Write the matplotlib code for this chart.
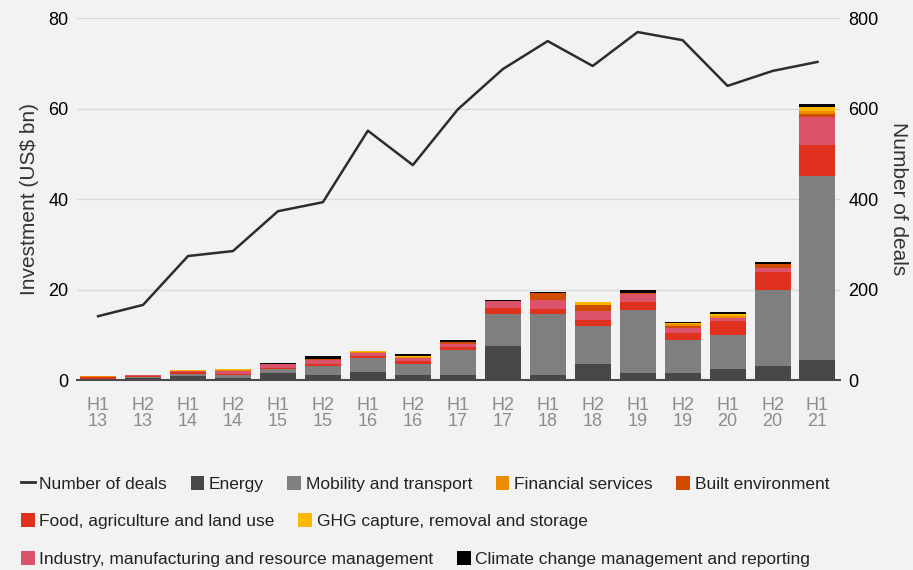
import numpy as np
import matplotlib
matplotlib.use("Agg")
import matplotlib.pyplot as plt
from matplotlib.patches import Patch
from matplotlib.lines import Line2D

plt.rcParams['font.family'] = ['Liberation Sans', 'DejaVu Sans']

periods = ["H1\n13", "H2\n13", "H1\n14", "H2\n14", "H1\n15", "H2\n15", "H1\n16", "H2\n16", "H1\n17",
           "H2\n17", "H1\n18", "H2\n18", "H1\n19", "H2\n19", "H1\n20", "H2\n20", "H1\n21"]

# investment, US$ bn, per sector
energy = [0.2, 0.5, 0.95, 0.5, 1.5, 1.0, 1.8, 1.0, 1.0, 7.5, 1.1, 3.5, 1.5, 1.5, 2.4, 3.1, 4.4]
mobility = [0.1, 0.2, 0.45, 0.5, 0.9, 2.05, 3.1, 2.5, 5.6, 7.1, 13.5, 8.4, 14.0, 7.3, 7.5, 16.8, 40.7]
food = [0.3, 0.1, 0.3, 0.4, 0.3, 0.5, 0.5, 0.6, 0.6, 1.3, 1.1, 1.3, 1.7, 1.6, 3.1, 4.0, 6.8]
industry = [0.1, 0.2, 0.3, 0.5, 0.75, 0.8, 0.6, 0.8, 0.7, 1.6, 2.0, 2.0, 1.8, 1.1, 0.7, 0.9, 6.2]
built = [0, 0, 0, 0, 0, 0.35, 0, 0, 0.5, 0, 1.5, 1.4, 0.2, 0.4, 0, 0.9, 0.7]
financial = [0.1, 0, 0.1, 0.3, 0, 0, 0.2, 0.15, 0, 0, 0, 0, 0, 0.4, 0.5, 0, 0.6]
ghg = [0.1, 0, 0.2, 0.2, 0, 0, 0.2, 0.15, 0, 0, 0, 0.6, 0, 0.3, 0.4, 0, 0.9]
climate = [0, 0, 0, 0, 0.3, 0.5, 0, 0.5, 0.4, 0.2, 0.2, 0, 0.7, 0.3, 0.4, 0.4, 0.6]

deals = [141, 166, 274, 285, 373, 393, 551, 475, 598, 687, 749, 694, 769, 751, 650, 683, 703]

stack = [
    (energy, "Energy", "#474747"),
    (mobility, "Mobility and transport", "#7f7f7f"),
    (food, "Food, agriculture and land use", "#e0301e"),
    (industry, "Industry, manufacturing and resource management", "#db536a"),
    (built, "Built environment", "#d04a02"),
    (financial, "Financial services", "#eb8c00"),
    (ghg, "GHG capture, removal and storage", "#ffb600"),
    (climate, "Climate change management and reporting", "#000000"),
]

bg = "#f2f2f2"
fig = plt.figure(figsize=(9.13, 5.70), dpi=100, facecolor=bg)
ax = fig.add_axes([0.0843, 0.3333, 0.8357, 0.6351], facecolor=bg)

x = np.arange(len(periods))
bottom = np.zeros(len(periods))
for vals, name, col in stack:
    ax.bar(x, vals, 0.8, bottom=bottom, color=col, zorder=2)
    bottom += np.array(vals)

ax.set_ylim(0, 80)
ax.set_xlim(-0.47, 16.5)
ax.set_yticks([0, 20, 40, 60, 80])
ax.yaxis.grid(True, color="#d9d9d9", linewidth=1, zorder=0)
ax.set_axisbelow(True)
for s in ["top", "left", "right"]:
    ax.spines[s].set_visible(False)
ax.spines["bottom"].set_color("#4a4a4a")
ax.spines["bottom"].set_linewidth(1.5)
ax.spines["bottom"].set_zorder(3)
ax.set_xticks(x)
ax.set_xticklabels(periods, color="#8c8c8c", fontsize=13, linespacing=0.95)
ax.tick_params(axis="x", length=0, pad=12)
ax.tick_params(axis="y", length=0, labelsize=13, pad=6)
ax.set_ylabel("Investment (US$ bn)", fontsize=15, color="#333333", labelpad=7)

ax2 = ax.twinx()
ax2.set_ylim(0, 800)
ax2.set_yticks([0, 200, 400, 600, 800])
ax2.plot(x, deals, color="#2d2d2d", linewidth=1.8, zorder=4)
for s in ["top", "left", "right", "bottom"]:
    ax2.spines[s].set_visible(False)
ax2.tick_params(axis="y", length=0, labelsize=13, pad=6)
ax2.set_ylabel("Number of deals", fontsize=15, color="#333333", rotation=270, labelpad=21)

def patch(i):
    return Patch(facecolor=stack[i][2], label=stack[i][1])

deal_handle = Line2D([], [], color="#2d2d2d", linewidth=2, label="Number of deals")
rows = [
    ([deal_handle, patch(0), patch(1), patch(5), patch(4)], 0.151),
    ([patch(2), patch(6)], 0.086),
    ([patch(3), patch(7)], 0.019),
]
for handles, yy in rows:
    leg = fig.legend(handles=handles, loc="center left", bbox_to_anchor=(0.0135, yy),
                     ncol=len(handles), frameon=False, fontsize=12.5,
                     handlelength=0.78, handleheight=0.9, handletextpad=0.28,
                     columnspacing=1.35, borderpad=0)
    for t in leg.get_texts():
        t.set_color("#222222")

fig.savefig("out.png", dpi=100, facecolor=bg)
